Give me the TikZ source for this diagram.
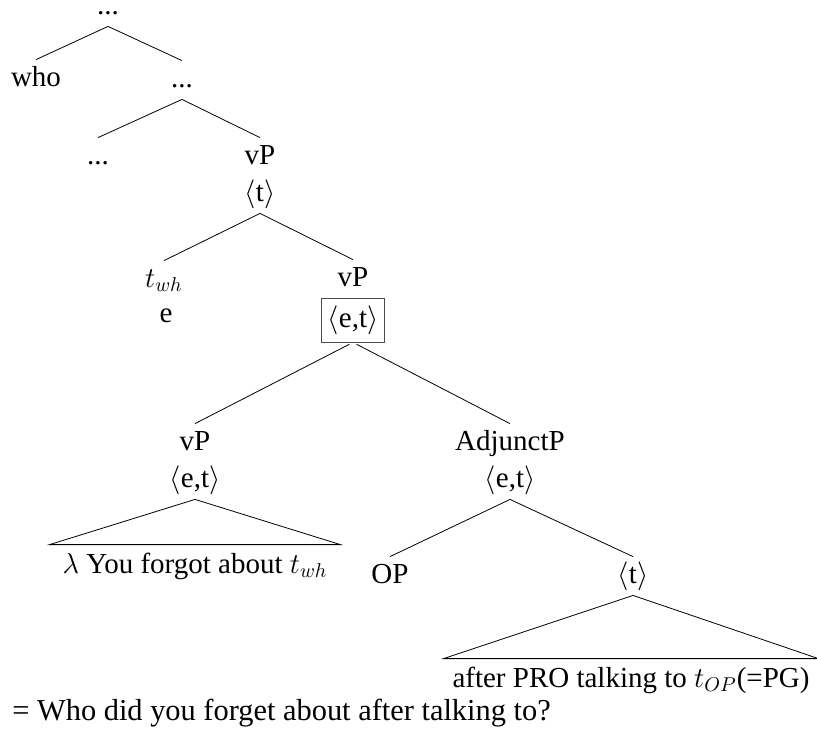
\documentclass[tikz,border=0pt]{standalone}
\usepackage{fontspec}
\setmainfont{Liberation Serif}
\usetikzlibrary{positioning}

\begin{document}
\begin{tikzpicture}
  [x=0.5pt,y=-0.5pt,
   labelN/.style={anchor=base,inner sep=0pt,text height=13pt,text depth=6pt,
                  font=\fontsize{14.5}{17}\selectfont},
   boxN/.style={labelN,draw=black!70,text height=11.5pt,text depth=4.5pt,inner sep=3pt},
   leafN/.style={labelN,text height=14pt}]

  \useasboundingbox (0,0) rectangle (817,729);

  \node[labelN,text height=4pt] (top) at (108,14) {...};
  \node[labelN] (who)   at (36,86)   {who};
  \node[labelN] (dotsA) at (182,87)  {...};
  \node[labelN] (dotsB) at (98,164)  {...};
  \node[labelN] (vpA)   at (260,164) {vP};
  \node[labelN] (tA)    at (260,201) {$\langle$t$\rangle$};

  \node[labelN] (twh)   at (164,287) {$t_{wh}$};
  \node[labelN] (e)     at (166,322) {e};
  \node[labelN] (vpB)   at (353,286) {vP};
  \node[boxN]   (etB)   at (353,327) {$\langle$e,t$\rangle$};

  \node[labelN] (vpC)   at (195,450) {vP};
  \node[labelN] (etC)   at (195,487) {$\langle$e,t$\rangle$};
  \node[leafN,minimum width=145pt] (leafC) at (195,573) {$\lambda$ You forgot about $t_{wh}$};

  \node[labelN] (adj)   at (510,450) {AdjunctP};
  \node[labelN] (etD)   at (510,487) {$\langle$e,t$\rangle$};
  \node[labelN] (op)    at (390,583) {OP};
  \node[labelN] (tD)    at (633,583) {$\langle$t$\rangle$};
  \node[leafN,minimum width=187pt] (leafD) at (631,687) {after PRO talking to $t_{OP}$(=PG)};

  \node[labelN,anchor=base west,font=\fontsize{15.2}{18}\selectfont] (gloss) at (12,720)
    {= Who did you forget about after talking to?};

  \draw (top.south) -- (who.north);
  \draw (top.south) -- (dotsA.north);
  \draw (dotsA.south) -- (dotsB.north);
  \draw (dotsA.south) -- (vpA.north);
  \draw (tA.south) -- (twh.north);
  \draw (tA.south) -- (vpB.north);
  \draw[shorten <=2pt] (etB.south) -- (vpC.north);
  \draw[shorten <=2pt] (etB.south) -- (adj.north);
  \draw (etC.south) -- (leafC.north west) -- (leafC.north east) -- cycle;
  \draw (etD.south) -- (op.north);
  \draw (etD.south) -- (tD.north);
  \draw (tD.south) -- (leafD.north west) -- (leafD.north east) -- cycle;
\end{tikzpicture}
\end{document}
